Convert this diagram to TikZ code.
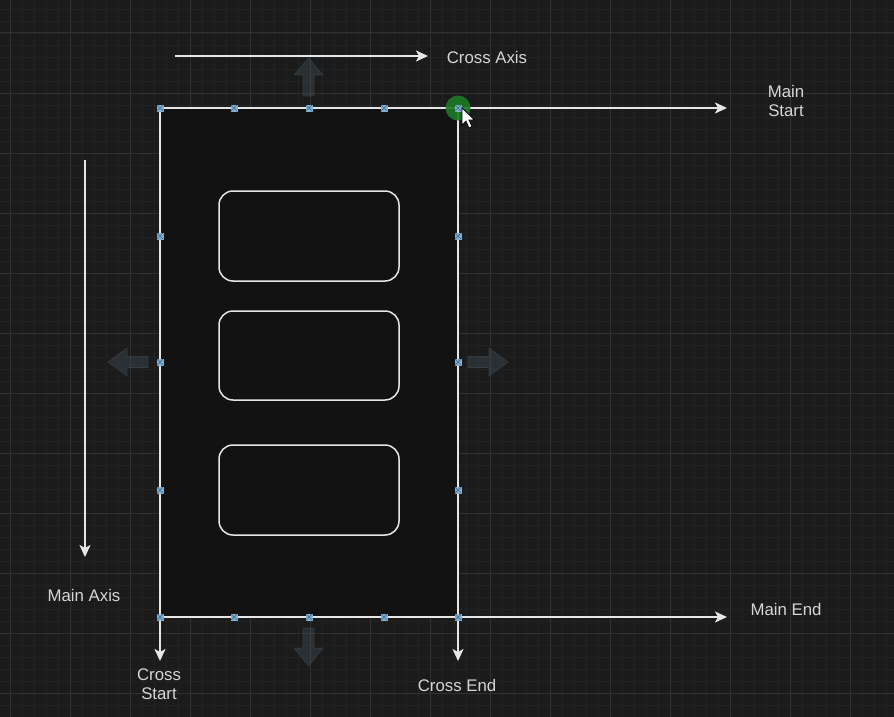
\documentclass[tikz,border=0pt]{standalone}
\usepackage{fontspec}
\setmainfont{Liberation Sans}
\usetikzlibrary{arrows.meta,calc}
\definecolor{bg}{HTML}{1B1B1B}
\definecolor{boxfill}{HTML}{121212}
\definecolor{minorc}{HTML}{222222}
\definecolor{majorc}{HTML}{313131}
\definecolor{linec}{HTML}{E6E6E6}
\definecolor{txtc}{HTML}{D6D6D6}
\definecolor{markc}{HTML}{7FAED0}
\definecolor{markx}{HTML}{3F6F92}
\definecolor{ghost}{HTML}{44525B}
\definecolor{greenc}{HTML}{1C7A24}
\tikzset{
  minor/.style={draw=minorc, line width=0.8pt},
  major/.style={draw=majorc, line width=1pt},
  edge/.style={draw=linec, line width=1.8pt},
  arr/.style={edge, -{Stealth[length=12pt,width=11pt,inset=3pt]}},
  lbl/.style={text=txtc, font=\fontsize{16.8}{19.5}\selectfont, align=center, inner sep=0pt},
  itembox/.style={draw=linec, line width=1.5pt, fill=boxfill, rounded corners=14pt, minimum width=180pt, minimum height=90pt, inner sep=0pt},
  ghostarr/.style={fill=ghost, fill opacity=0.38, draw=ghost, draw opacity=0.5, line width=0.6pt},
}
\newcommand{\mymarker}[1]{%
  \fill[markc] ($(#1)+(-3.5,-3.5)$) rectangle ($(#1)+(3.5,3.5)$);%
  \draw[markx, line width=0.7pt] ($(#1)+(-3,-3)$) -- ($(#1)+(3,3)$) ($(#1)+(-3,3)$) -- ($(#1)+(3,-3)$);%
}
\begin{document}
\begin{tikzpicture}[x=1pt,y=-1pt]
\fill[bg] (0,0) rectangle (894,717);
\useasboundingbox (0,0) rectangle (894,717);
% grid
\foreach \x in {-2,10,...,894} \draw[minor] (\x,0) -- (\x,717);
\foreach \y in {9,21,...,717} \draw[minor] (0,\y) -- (894,\y);
\foreach \x in {10,70,...,894} \draw[major] (\x,0) -- (\x,717);
\foreach \y in {33,93,...,717} \draw[major] (0,\y) -- (894,\y);

% container
\coordinate (tl) at (160,108);
\coordinate (tr) at (458,108);
\coordinate (bl) at (160,617);
\coordinate (br) at (458,617);
\coordinate (msEnd) at (727,108);
\coordinate (meEnd) at (727,617);
\coordinate (csEnd) at (160,661);
\coordinate (ceEnd) at (458,661);
\fill[boxfill] (tl) rectangle (br);

% ghost arrows
\filldraw[ghostarr] (303,96) -- (314,96) -- (314,75) -- (323,75) -- (308.5,58) -- (294,75) -- (303,75) -- cycle;
\filldraw[ghostarr] (303,628) -- (314,628) -- (314,648) -- (323,648) -- (308.5,666) -- (294,648) -- (303,648) -- cycle;
\filldraw[ghostarr] (148,356.5) -- (148,367.5) -- (127,367.5) -- (127,376) -- (108,362) -- (127,348) -- (127,356.5) -- cycle;
\filldraw[ghostarr] (468,356.5) -- (468,367.5) -- (489,367.5) -- (489,376) -- (508,362) -- (489,348) -- (489,356.5) -- cycle;

% edges and axis arrows
\draw[edge] (tl) -- (tr);
\draw[arr] (tr) -- (msEnd);
\draw[edge] (bl) -- (br);
\draw[arr] (br) -- (meEnd);
\draw[arr] (tl) -- (csEnd);
\draw[arr] (tr) -- (ceEnd);

\coordinate (caS) at (175,56);
\coordinate (caE) at (428,56);
\draw[arr] (caS) -- (caE);
\coordinate (maS) at (85,160);
\coordinate (maE) at (85,557);
\draw[arr] (maS) -- (maE);

% items
\node[itembox] (i1) at (309,236) {};
\node[itembox, minimum height=89pt] (i2) at (309,355.5) {};
\node[itembox] (i3) at (309,490) {};

% labels
\node[lbl] (lca) at (487,57) {Cross Axis};
\node[lbl] (lms) at (786,101) {Main\\Start};
\node[lbl] (lme) at (786,609) {Main End};
\node[lbl] (lma) at (84,595) {Main Axis};
\node[lbl] (lcs) at (159,684) {Cross\\Start};
\node[lbl] (lce) at (457,685) {Cross End};

% markers
\foreach \px/\py in {160/108,234/108,309/108,384/108,234/617,309/617,384/617,160/617,458/617,160/236,160/362,160/490,458/236,458/362,458/490} {
  \coordinate (m) at (\px,\py);
  \mymarker{m}
}
% green handle
\fill[greenc, opacity=0.9] (tr) circle (12.5pt);
\mymarker{tr}
% cursor
\filldraw[fill=white, draw=black, line width=0.7pt]
  (462,108) -- (462,125) -- (466,121) -- (469,128) -- (472,126.5) -- (469,120) -- (474.5,120) -- cycle;
\end{tikzpicture}
\end{document}
